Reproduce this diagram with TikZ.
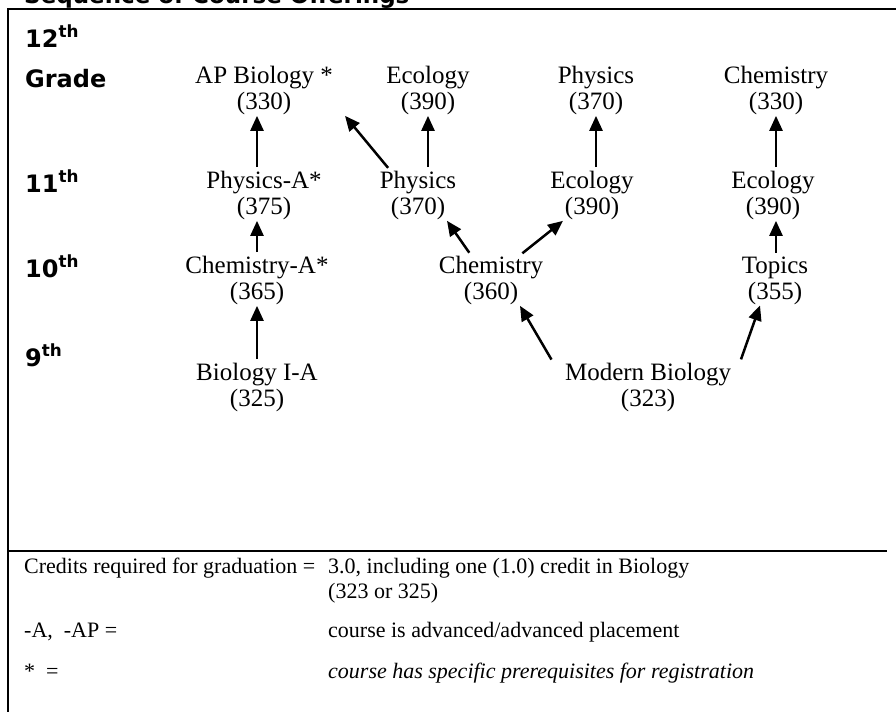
\documentclass[tikz,border=0pt]{standalone}
\usepackage{fontspec}
\setmainfont{Liberation Serif}
\newfontfamily\gradefont{DejaVu Sans}
\usetikzlibrary{arrows.meta}

\begin{document}
\begin{tikzpicture}[x=1pt, y=-1pt,
    course/.style={align=center, inner sep=0pt, outer sep=1pt,
        font=\fontsize{25}{26}\selectfont},
    grade/.style={anchor=base west, inner sep=0pt,
        font=\gradefont\bfseries\fontsize{24}{28}\selectfont},
    note/.style={anchor=base west, inner sep=0pt,
        font=\fontsize{22}{25}\selectfont},
    prereq/.style={-{Triangle[length=15pt, width=13pt]}, line width=2.5pt,
        shorten <=3pt}]

\useasboundingbox (0, 0) rectangle (896, 712);

\node[anchor=base west, inner sep=0pt, font=\gradefont\bfseries\fontsize{23}{27}\selectfont]
    (title) at (24, 3) {Sequence of Course Offerings};

\draw[line width=2pt] (896, 9) -- (8, 9) -- (8, 712);
\draw[line width=2pt] (8, 551) -- (887, 551);

\node[grade] (g12) at (25, 47) {12\textsuperscript{th}};
\node[grade] (g12b) at (25, 87) {Grade};
\node[grade] (g11) at (25, 192) {11\textsuperscript{th}};
\node[grade] (g10) at (25, 277) {10\textsuperscript{th}};
\node[grade] (g9) at (25, 366) {9\textsuperscript{th}};

\node[course] (apbio) at (264, 90.5) {AP Biology *\\(330)};
\node[course] (eco12) at (428, 90.5) {Ecology\\(390)};
\node[course] (phys12) at (596, 90.5) {Physics\\(370)};
\node[course] (chem12) at (776, 90.5) {Chemistry\\(330)};

\node[course] (physA) at (264, 195.5) {Physics-A*\\(375)};
\node[course] (phys11) at (418, 195.5) {Physics\\(370)};
\node[course] (eco11) at (592, 195.5) {Ecology\\(390)};
\node[course] (eco11r) at (773, 195.5) {Ecology\\(390)};

\node[course] (chemA) at (257, 280.5) {Chemistry-A*\\(365)};
\node[course] (chem10) at (491, 280.5) {Chemistry\\(360)};
\node[course] (topics) at (775, 280.5) {Topics\\(355)};

\node[course] (bioA) at (257, 387.5) {Biology I-A\\(325)};
\node[course] (modbio) at (648, 387.5) {Modern Biology\\(323)};

\draw[prereq] (bioA.north) -- (chemA.south);
\draw[prereq] (chemA.north) -- (chemA.north |- physA.south);
\draw[prereq] (physA.north -| chemA) -- (apbio.south -| chemA);
\draw[prereq] ([xshift=-28pt]phys11.north) -- ([xshift=81pt]apbio.south);
\draw[prereq] (eco12.south |- phys11.north) -- (eco12.south);
\draw[prereq] (phys12.south |- eco11.north) -- (phys12.south);
\draw[prereq] (chem12.south |- eco11r.north) -- (chem12.south);

\draw[prereq] ([xshift=-20pt]chem10.north) -- ([xshift=29pt]phys11.south);
\draw[prereq] ([xshift=29pt]chem10.north) -- ([xshift=-29pt]eco11.south);
\draw[prereq] (topics.north -| chem12) -- (eco11r.south -| chem12);

\draw[prereq] ([xshift=-95pt]modbio.north) -- ([xshift=29pt]chem10.south);
\draw[prereq] ([xshift=92pt]modbio.north) -- ([xshift=-15pt]topics.south);

\node[note] (credits) at (24, 573) {Credits required for graduation =};
\node[note] (creditsval) at (328, 573) {3.0, including one (1.0) credit in Biology};
\node[note] (creditsbio) at (328, 598) {(323 or 325)};
\node[note] (adv) at (24, 637) {-A,\ \ -AP =};
\node[note] (advval) at (328, 637) {course is advanced/advanced placement};
\node[note] (star) at (24, 678) {*\ \ =};
\node[note] (starval) at (328, 678) {\itshape course has specific prerequisites for registration};

\end{tikzpicture}
\end{document}
